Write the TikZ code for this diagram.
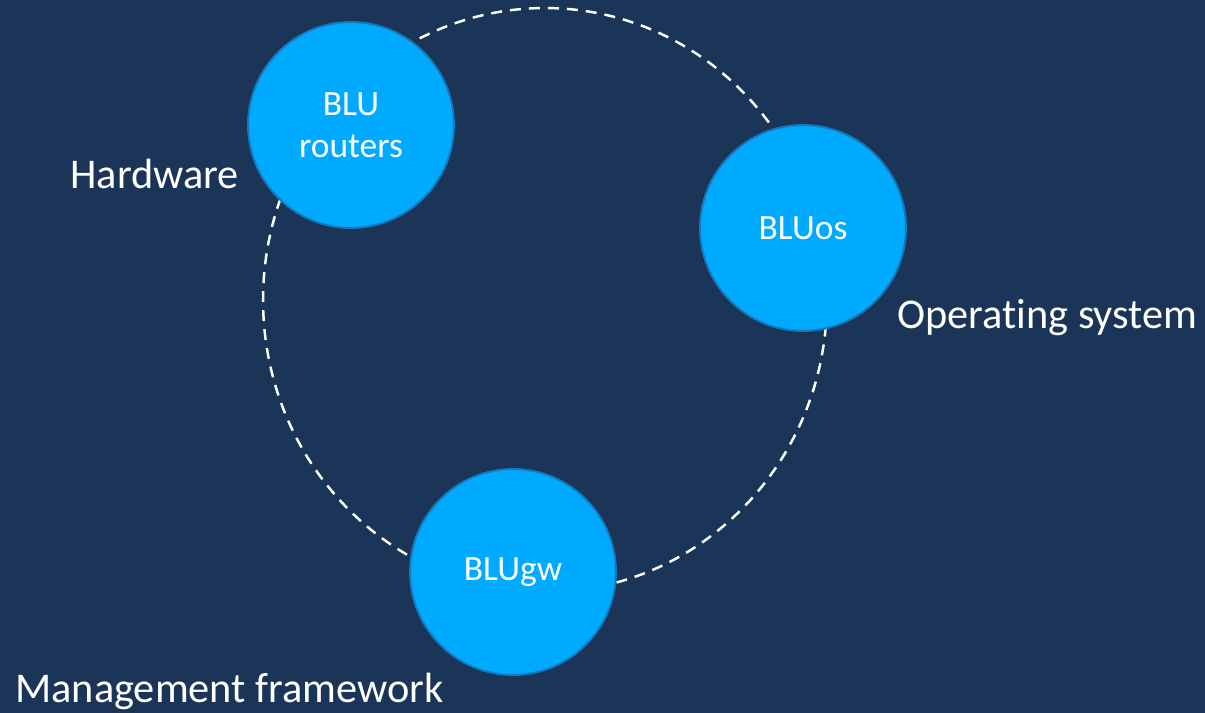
\documentclass[tikz,border=0pt]{standalone}
\usepackage{fontspec}
\setmainfont[RawFeature=-liga]{Carlito}
\usepackage{tikz}
\usetikzlibrary{positioning, calc}
\definecolor{navy}{HTML}{1A3557}
\definecolor{skyfill}{HTML}{00AAFF}
\definecolor{skyedge}{HTML}{1478BA}

\begin{document}
\begin{tikzpicture}[
  x=0.02cm, y=-0.02cm,
  part/.style={circle, draw=skyedge, line width=1.1pt, fill=skyfill,
               minimum size=4.12cm, inner sep=0pt, text=white, align=center,
               font=\fontsize{20.2}{23.9}\selectfont},
  tag/.style={anchor=base west, text=white, inner sep=0pt,
              font=\fontsize{24.1}{28.7}\selectfont},
  ring/.style={draw=white, line width=1.4pt, dash pattern=on 0.22cm off 0.16cm}
]
  % Background
  \fill[navy] (0,0) rectangle (1205,713);
  \useasboundingbox (0,0) rectangle (1205,713);

  % Cycle
  \coordinate (hub) at (545,300);
  \draw[ring] (hub) ellipse [x radius=5.64cm, y radius=5.84cm];

  % Parts
  \node[part] (routers) at (351,125) {BLU\\routers};
  \node[part] (os) at (803,228) {BLUos};
  \node[part] (gw) at (513,572) {BLUgw};

  % Labels
  \node[tag] (hw) at (70,189) {Hardware};
  \node[tag] (ossys) at (897,329) {Operating system};
  \node[tag] (mgmt) at (15,702) {Management framework};
\end{tikzpicture}
\end{document}
